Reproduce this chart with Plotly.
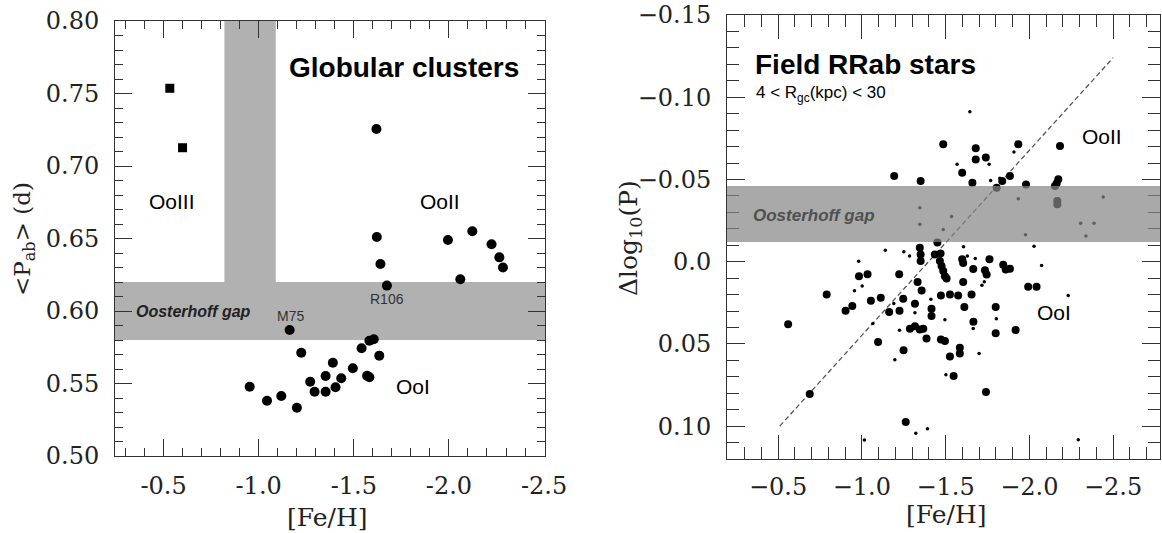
import plotly.graph_objects as go

# ---------------- Left panel: globular clusters ----------------
gc_sq_feh = [-0.533, -0.600]
gc_sq_p = [0.7536, 0.7126]

gc_feh = [-1.619, -1.621, -1.640, -1.674, -1.995, -2.123, -2.060, -2.224, -2.265, -2.284,
          -1.163, -1.224, -0.953, -1.044, -1.119, -1.201, -1.271, -1.294, -1.352, -1.352,
          -1.390, -1.404, -1.434, -1.495, -1.541, -1.582, -1.605, -1.634, -1.570, -1.582]
gc_p = [0.7255, 0.651, 0.6324, 0.6175, 0.649, 0.655, 0.6219, 0.646, 0.637, 0.630,
        0.5869, 0.5712, 0.5478, 0.5381, 0.5414, 0.5333, 0.5512, 0.5443, 0.5552, 0.5443,
        0.5643, 0.5474, 0.5536, 0.5605, 0.5743, 0.5795, 0.5805, 0.5692, 0.5554, 0.5543]

gc_gap_p = [0.58, 0.62]          # Oosterhoff gap in <Pab>
gc_gap_feh = [-0.82, -1.09]      # vertical gap in [Fe/H]

left_xticks = [-0.5, -1.0, -1.5, -2.0, -2.5]
left_xtext = ["-0.5", "-1.0", "-1.5", "-2.0", "-2.5"]
left_yticks = [0.50, 0.55, 0.60, 0.65, 0.70, 0.75, 0.80]
left_ytext = ["0.50", "0.55", "0.60", "0.65", "0.70", "0.75", "0.80"]

# ---------------- Right panel: field RRab stars ----------------
big_feh = [-0.560, -0.689, -0.790, -0.903, -0.943, -0.983, -1.034, -1.054, -1.113, -1.097,
           -1.163, -1.193, -1.223, -1.225, -1.247, -1.249, -1.262, -1.287, -1.317, -1.346,
           -1.367, -1.317, -1.333, -1.357, -1.346, -1.351, -1.351, -1.351, -1.386, -1.416,
           -1.416, -1.436, -1.470, -1.466, -1.476, -1.486, -1.496, -1.506, -1.472, -1.472,
           -1.496, -1.486, -1.526, -1.526, -1.548, -1.575, -1.585, -1.585, -1.599, -1.605,
           -1.605, -1.612, -1.599, -1.655, -1.665, -1.666, -1.660, -1.680, -1.680, -1.740,
           -1.735, -1.745, -1.762, -1.799, -1.799, -1.741, -1.844, -1.859, -1.884, -1.838,
           -1.884, -1.934, -1.918, -1.980, -1.993, -2.043, -2.183, -2.173, -2.163, -2.153,
           -2.167, -2.167, -1.805, -1.451]
big_dlogp = [0.0381, 0.0805, 0.0199, 0.0298, 0.0270, 0.0088, 0.0077, 0.0237, 0.0219, 0.0488,
             0.0306, -0.0521, 0.0077, 0.0298, 0.0225, 0.0538, 0.0975, 0.0408, 0.0392, 0.0412,
             0.0408, 0.0256, 0.0124, 0.0175, -0.0085, -0.0044, -0.0004, -0.0490, 0.0467, 0.0286,
             0.0331, -0.0044, -0.0050, -0.0004, 0.0027, 0.0057, 0.0088, 0.0102, 0.0205, 0.0473,
             0.0483, -0.0714, 0.0199, 0.0576, 0.0696, 0.0205, 0.0523, 0.0558, -0.0014, 0.0008,
             0.0124, 0.0276, -0.0541, 0.0199, 0.0045, 0.0366, -0.0480, -0.0689, -0.0622, -0.0633,
             0.0052, 0.0078, -0.0014, 0.0276, 0.0436, 0.0793, 0.0019, 0.0047, 0.0043, -0.0490,
             -0.0521, -0.0714, 0.0416, -0.0470, 0.0152, 0.0152, -0.0703, -0.0501, -0.0476, -0.0460,
             -0.0369, -0.0349, -0.0450, -0.0116]

small_feh = [-1.645, -0.981, -1.140, -1.251, -1.285, -0.956, -1.002, -1.066, -1.191, -1.225,
             -1.197, -1.317, -1.412, -1.496, -1.502, -1.607, -1.630, -1.677, -1.655, -1.665,
             -1.700, -1.717, -1.731, -1.803, -1.569, -1.760, -1.769, -1.824, -1.908, -1.346,
             -1.346, -1.536, -1.486, -1.934, -1.977, -2.306, -2.386, -2.338, -2.441, -2.028,
             -2.073, -2.232, -1.322, -1.392, -1.015, -2.292]
small_dlogp = [-0.0912, -0.0002, -0.0070, -0.0060, -0.0034, 0.0177, 0.0148, 0.0376, 0.0254, 0.0417,
               0.0596, 0.0310, 0.0229, 0.0353, 0.0688, -0.0090, -0.0034, -0.0019, 0.0190, 0.0407,
               0.0558, 0.0143, 0.0122, 0.0347, -0.0592, -0.0592, -0.0493, -0.0507, -0.0667, -0.0328,
               -0.0227, -0.0274, -0.0196, -0.0383, -0.0164, -0.0233, -0.0233, -0.0156, -0.0393, -0.0093,
               0.0023, 0.0205, 0.1044, 0.1016, 0.1085, 0.1083]

line_feh = [-0.51, -2.50]
line_dlogp = [0.100, -0.124]

field_gap = [-0.046, -0.012]

right_xticks = [-0.5, -1.0, -1.5, -2.0, -2.5]
right_xtext = ["\u22120.5", "\u22121.0", "\u22121.5", "\u22122.0", "\u22122.5"]
right_yticks = [-0.15, -0.10, -0.05, 0.0, 0.05, 0.10]
right_ytext = ["\u22120.15", "\u22120.10", "\u22120.05", "0.0", "0.05", "0.10"]

# minor tick positions (axis styling)
left_xminor = [-0.3, -0.4, -0.6, -0.7, -0.8, -0.9, -1.1, -1.2, -1.3, -1.4, -1.6, -1.7, -1.8, -1.9,
               -2.1, -2.2, -2.3, -2.4]
left_yminor = [0.51, 0.52, 0.53, 0.54, 0.56, 0.57, 0.58, 0.59, 0.61, 0.62, 0.63, 0.64,
               0.66, 0.67, 0.68, 0.69, 0.71, 0.72, 0.73, 0.74, 0.76, 0.77, 0.78, 0.79]
right_xminor = [-0.3, -0.4, -0.6, -0.7, -0.8, -0.9, -1.1, -1.2, -1.3, -1.4, -1.6, -1.7, -1.8, -1.9,
                -2.1, -2.2, -2.3, -2.4, -2.6, -2.7]
right_yminor = [-0.14, -0.13, -0.12, -0.11, -0.09, -0.08, -0.07, -0.06, -0.04, -0.03, -0.02, -0.01,
                0.01, 0.02, 0.03, 0.04, 0.06, 0.07, 0.08, 0.09, 0.11]

# ---------------- Figure ----------------
W, H = 1162, 533
SERIF = "DejaVu Serif"
SANS = "Liberation Sans"
AX = "#333333"

fig = go.Figure()

fig.add_trace(go.Scatter(x=gc_sq_feh, y=gc_sq_p, mode="markers", xaxis="x", yaxis="y",
                         marker=dict(symbol="square", size=9, color="black"),
                         showlegend=False, hoverinfo="skip"))
fig.add_trace(go.Scatter(x=gc_feh, y=gc_p, mode="markers", xaxis="x", yaxis="y",
                         marker=dict(symbol="circle", size=10, color="black"),
                         showlegend=False, hoverinfo="skip"))

fig.add_trace(go.Scatter(x=line_feh, y=line_dlogp, mode="lines", xaxis="x2", yaxis="y2",
                         line=dict(color="#555555", width=1.3, dash="5px,3px"),
                         showlegend=False, hoverinfo="skip"))
fig.add_trace(go.Scatter(x=big_feh, y=big_dlogp, mode="markers", xaxis="x2", yaxis="y2",
                         marker=dict(symbol="circle", size=8, color="black"),
                         showlegend=False, hoverinfo="skip"))
fig.add_trace(go.Scatter(x=small_feh, y=small_dlogp, mode="markers", xaxis="x2", yaxis="y2",
                         marker=dict(symbol="circle", size=3.5, color="black"),
                         showlegend=False, hoverinfo="skip"))


def axis(domain, rng, tv, tt, minor_vals, tlen, mlen, anchor, standoff):
    return dict(domain=domain, range=rng, tickmode="array", tickvals=tv, ticktext=tt,
                ticks="inside", ticklen=tlen, tickwidth=1, tickcolor=AX,
                minor=dict(tickmode="array", tickvals=minor_vals, ticks="inside",
                           ticklen=mlen, tickwidth=1, tickcolor=AX, showgrid=False),
                showline=True, linecolor=AX, linewidth=1, mirror="allticks",
                showgrid=False, zeroline=False, anchor=anchor, automargin=False,
                ticklabelstandoff=standoff,
                tickfont=dict(family=SERIF, size=24, color="#222222"))


lx0, lx1, ly0, ly1 = 115, 545, 21, 456
rx0, rx1, ry0, ry1 = 727, 1160, 15, 459

fig.update_layout(
    template="none",
    width=W, height=H, margin=dict(l=0, r=0, t=0, b=0, autoexpand=False),
    paper_bgcolor="white", plot_bgcolor="white",
    font=dict(family=SANS, color="black"),
    xaxis=axis([lx0 / W, lx1 / W], [-0.245, -2.505], left_xticks, left_xtext, left_xminor, 17, 8, "y", 8),
    yaxis=axis([1 - ly1 / H, 1 - ly0 / H], [0.50, 0.80], left_yticks, left_ytext, left_yminor, 17, 8, "x", 10),
    xaxis2=axis([rx0 / W, rx1 / W], [-0.195, -2.78], right_xticks, right_xtext, right_xminor, 24, 12, "y2", 6),
    yaxis2=axis([1 - ry1 / H, 1 - ry0 / H], [0.12, -0.15], right_yticks, right_ytext, right_yminor, 18, 12, "x2", 10),
)

shapes = [
    dict(type="rect", xref="x domain", yref="y", x0=0, x1=1, y0=gc_gap_p[0], y1=gc_gap_p[1],
         fillcolor="#b1b1b1", line=dict(width=0), layer="below"),
    dict(type="rect", xref="x", yref="y", x0=gc_gap_feh[0], x1=gc_gap_feh[1], y0=gc_gap_p[1], y1=0.80,
         fillcolor="#b1b1b1", line=dict(width=0), layer="below"),
    dict(type="rect", xref="x2 domain", yref="y2", x0=0, x1=1, y0=field_gap[0], y1=field_gap[1],
         fillcolor="rgb(134,134,134)", opacity=0.71, line=dict(width=0), layer="above"),
]
fig.update_layout(shapes=shapes)


def ann(x, y, text, size, xref="x", yref="y", color="black", xanchor="center", angle=0, family=SANS):
    return dict(x=x, y=y, xref=xref, yref=yref, text=text, showarrow=False,
                xanchor=xanchor, yanchor="middle", textangle=angle,
                font=dict(family=family, size=size, color=color))


annotations = [
    ann(-1.762, 0.768, "<b>Globular clusters</b>", 28),
    ann(-0.546, 0.6754, "OoIII", 21),
    ann(-1.951, 0.6753, "OoII", 21),
    ann(-1.812, 0.5478, "OoI", 21),
    ann(-0.656, 0.5997, "<b><i>Oosterhoff gap</i></b>", 16, color="#222222"),
    ann(-1.165, 0.5968, "M75", 14, color="#333333"),
    ann(-1.675, 0.6083, "R106", 14, color="#333333"),
    ann(-1.024, -0.1198, "<b>Field RRab stars</b>", 28, "x2", "y2"),
    ann(-0.356, -0.1018, "4 &lt; R<sub>gc</sub>(kpc) &lt; 30", 17, "x2", "y2", xanchor="left"),
    ann(-2.434, -0.076, "OoII", 21, "x2", "y2"),
    ann(-2.149, 0.031, "OoI", 21, "x2", "y2"),
    ann(-0.713, -0.0282, "<b><i>Oosterhoff gap</i></b>", 17, "x2", "y2", color="#505050"),
    # axis titles
    ann(327 / W, 1 - 517 / H, "[Fe/H]", 25, "paper", "paper", "#222222", family=SERIF),
    ann(946 / W, 1 - 514 / H, "[Fe/H]", 25, "paper", "paper", "#222222", family=SERIF),
    ann(24 / W, 1 - 239 / H, "&lt;P<sub>ab</sub>&gt; (d)", 23, "paper", "paper", "#222222", angle=-90, family=SERIF),
    ann(630 / W, 1 - 238 / H, "\u0394log<sub>10</sub>(P)", 25, "paper", "paper", "#222222", angle=-90, family=SERIF),
]
fig.update_layout(annotations=annotations)

fig.write_html("out.html")
